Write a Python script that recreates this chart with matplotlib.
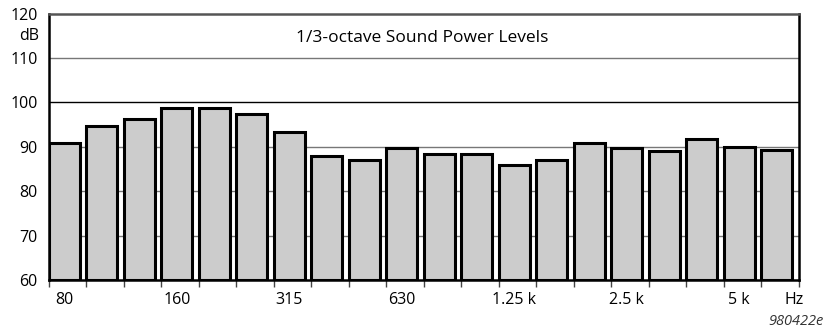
import matplotlib
matplotlib.use("Agg")
import matplotlib.pyplot as plt

# 1/3-octave band centre frequencies and measured sound power levels
bands = ["80", "100", "125", "160", "200", "250", "315", "400", "500", "630",
         "800", "1 k", "1.25 k", "1.6 k", "2 k", "2.5 k", "3.15 k", "4 k", "5 k", "6.3 k"]
levels_db = [90.8, 94.8, 96.3, 98.7, 98.7, 97.5, 93.3, 88.0, 87.0, 89.8,
             88.5, 88.5, 85.9, 87.0, 90.8, 89.7, 89.1, 91.8, 90.0, 89.4]
# only every third band gets a label on the axis
labelled_bands = ["80", "160", "315", "630", "1.25 k", "2.5 k", "5 k"]
y_ticks = [60, 70, 80, 90, 100, 110, 120]

plt.rcParams["font.family"] = ["Open Sans", "DejaVu Sans"]

fig = plt.figure(figsize=(8.37, 3.34), dpi=100)
ax = fig.add_axes([0.0585, 0.1617, 0.8958, 0.7973])

xs = list(range(len(bands)))
bar_w = 0.82
ax.bar(xs, [v - 60 for v in levels_db], bottom=60, width=bar_w, align="edge",
       color="#cccccc", edgecolor="black", linewidth=2.2, zorder=3)

ax.set_xlim(0, len(bands))
ax.set_ylim(60, 120)

# horizontal grid lines
for y in [70, 80, 90, 110]:
    ax.axhline(y, color="#777777", lw=1.0, zorder=1)
ax.axhline(100, color="black", lw=1.0, zorder=1)

# y axis labels, with the unit squeezed in between 120 and 110
ax.set_yticks(y_ticks)
ax.set_yticklabels([str(t) for t in y_ticks], fontsize=11.5)
ax.tick_params(axis="y", length=0, pad=8)
ax.text(-0.26, 115.0, "dB", ha="right", va="center", fontsize=11.5)

# tick marks at band edges, labels under the bars
ax.set_xticks(list(range(len(bands) + 1)))
ax.set_xticklabels([])
ax.tick_params(axis="x", length=5, width=1.0, color="#444444", direction="out")
for i, b in enumerate(bands):
    if b in labelled_bands:
        ax.text(i + bar_w / 2, 55.5, b, ha="center", va="center", fontsize=11.5)
ax.text(19.87, 55.5, "Hz", ha="center", va="center", fontsize=11.5)

ax.text(len(bands) / 2 - 0.05, 114.6, "1/3-octave Sound Power Levels",
        ha="center", va="center", fontsize=12.5)

for side in ["left", "right", "bottom"]:
    ax.spines[side].set_color("black")
    ax.spines[side].set_linewidth(1.8)
ax.spines["top"].set_color("#555555")
ax.spines["top"].set_linewidth(1.8)

fig.text(0.984, 0.038, "980422e", ha="right", va="center",
         fontsize=10.5, style="italic", color="#333333")

fig.savefig("out.png", dpi=100)
